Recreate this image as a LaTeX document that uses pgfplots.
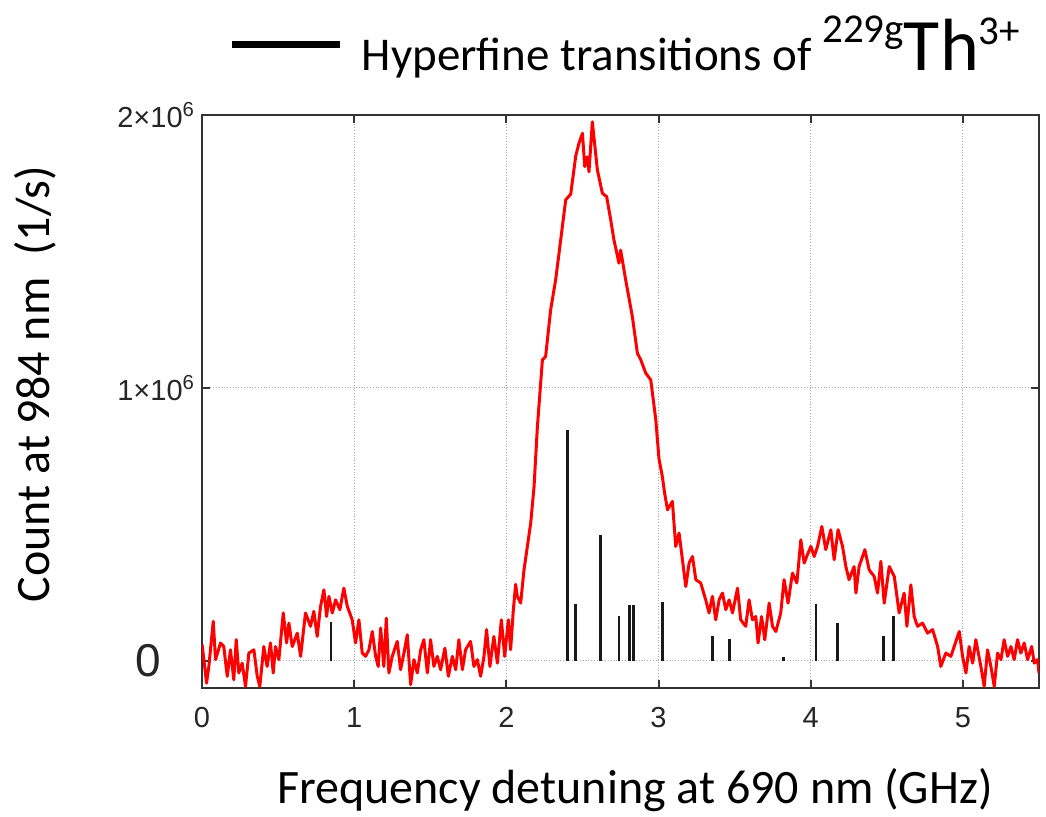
\documentclass[border=0pt]{standalone}
\usepackage{pgfplots}
\pgfplotsset{compat=1.18}
\usepackage{fontspec}
\setmainfont{Carlito}
\newfontfamily\arial{Liberation Sans}
\definecolor{axgray}{HTML}{333333}
\definecolor{specred}{HTML}{FF0000}
\begin{document}
\begin{tikzpicture}
\path[use as bounding box] (-101pt,-64pt) rectangle (422pt,344pt);
\begin{axis}[
  at={(0pt,0pt)}, anchor=south west,
  scale only axis, width=418.5pt, height=286.5pt,
  xmin=0, xmax=5.5, ymin=-0.1, ymax=2,
  xtick={0,1,2,3,4,5},
  ytick={0,1,2},
  yticklabels={{\fontsize{23}{23}\selectfont 0\hspace*{17pt}},{1\texttimes10\textsuperscript{6}},{2\texttimes10\textsuperscript{6}}},
  tick align=inside,
  major tick length=4pt,
  grid=major,
  grid style={densely dotted, gray!70, line width=0.4pt},
  axis line style={axgray, line width=1pt},
  tick style={axgray, line width=1pt},
  ticklabel style={font=\arial\fontsize{14.5}{16}\selectfont, text=black!85},
  xticklabel style={yshift=-6pt},
  /pgf/number format/assume math mode=true,
  legend style={at={(axis description cs:0.032,1.1222)}, anchor=west, draw=none, fill=none,
    inner sep=0pt, outer sep=0pt, font=\fontsize{23.5}{25}\selectfont},
  legend cell align=left,
  legend image code/.code={\draw[line width=3.5pt, black] (0pt,0pt) -- (54pt,0pt);},
]
\addplot[specred, line width=1.5pt, line join=round, forget plot] table {
0.001 0.059
0.030 -0.082
0.045 -0.021
0.074 0.144
0.089 0.004
0.122 0.065
0.143 0.052
0.166 -0.057
0.187 0.040
0.209 -0.070
0.225 0.077
0.242 -0.045
0.264 -0.009
0.286 -0.094
0.308 0.028
0.341 0.040
0.363 -0.057
0.380 -0.094
0.406 0.052
0.428 -0.021
0.450 0.065
0.468 -0.045
0.483 0.052
0.505 0.004
0.534 0.175
0.556 0.065
0.571 0.138
0.593 0.052
0.626 0.101
0.648 0.016
0.680 0.175
0.713 0.126
0.735 0.181
0.757 0.089
0.779 0.199
0.801 0.260
0.819 0.162
0.834 0.236
0.856 0.175
0.878 0.223
0.906 0.187
0.932 0.266
0.955 0.199
0.987 0.150
1.009 0.065
1.031 0.150
1.053 0.028
1.075 0.016
1.097 0.040
1.119 0.107
1.141 0.016
1.158 -0.021
1.174 0.120
1.195 -0.021
1.211 0.156
1.228 -0.045
1.250 0.016
1.283 0.071
1.305 -0.033
1.327 0.028
1.349 0.095
1.371 -0.088
1.393 0.004
1.415 -0.045
1.437 0.040
1.458 0.077
1.481 -0.045
1.502 0.077
1.524 -0.021
1.546 0.016
1.568 -0.033
1.596 0.046
1.619 -0.057
1.645 0.016
1.667 -0.033
1.688 0.077
1.711 -0.033
1.732 0.040
1.765 0.071
1.787 -0.021
1.809 0.004
1.831 -0.057
1.853 0.016
1.870 0.114
1.892 -0.021
1.918 0.089
1.941 -0.009
1.967 0.150
1.989 0.016
2.013 0.150
2.028 0.040
2.045 0.180
2.061 0.280
2.072 0.236
2.094 0.211
2.116 0.333
2.138 0.419
2.160 0.504
2.182 0.638
2.204 0.858
2.237 1.103
2.258 1.115
2.291 1.286
2.324 1.396
2.346 1.493
2.368 1.591
2.390 1.689
2.423 1.710
2.456 1.850
2.477 1.896
2.500 1.933
2.515 1.811
2.532 1.847
2.543 1.792
2.565 1.975
2.598 1.799
2.631 1.713
2.659 1.701
2.686 1.615
2.707 1.542
2.740 1.457
2.751 1.505
2.784 1.396
2.828 1.261
2.861 1.127
2.883 1.103
2.916 1.054
2.949 1.029
2.982 0.883
3.003 0.740
3.025 0.675
3.040 0.614
3.059 0.553
3.091 0.584
3.113 0.419
3.135 0.468
3.157 0.370
3.179 0.272
3.201 0.358
3.223 0.382
3.245 0.297
3.277 0.285
3.310 0.223
3.332 0.175
3.354 0.236
3.376 0.150
3.398 0.223
3.420 0.248
3.442 0.187
3.464 0.223
3.486 0.175
3.519 0.266
3.540 0.150
3.573 0.126
3.595 0.223
3.617 0.150
3.639 0.162
3.654 0.065
3.677 0.162
3.698 0.077
3.727 0.211
3.749 0.126
3.771 0.107
3.803 0.175
3.825 0.297
3.851 0.211
3.880 0.321
3.909 0.285
3.935 0.443
3.957 0.358
3.983 0.395
4.001 0.419
4.023 0.382
4.045 0.419
4.073 0.492
4.099 0.407
4.132 0.480
4.154 0.370
4.180 0.480
4.209 0.419
4.231 0.345
4.252 0.297
4.285 0.345
4.297 0.248
4.318 0.345
4.356 0.407
4.384 0.333
4.417 0.309
4.439 0.248
4.461 0.364
4.483 0.211
4.516 0.345
4.549 0.309
4.581 0.175
4.614 0.248
4.632 0.126
4.658 0.278
4.680 0.162
4.702 0.126
4.735 0.138
4.768 0.101
4.801 0.114
4.834 0.052
4.855 -0.021
4.888 0.028
4.921 0.016
4.943 0.052
4.976 0.107
4.998 0.016
5.020 -0.045
5.041 0.052
5.064 -0.009
5.085 0.077
5.118 -0.021
5.140 -0.094
5.162 0.040
5.184 -0.021
5.206 -0.094
5.228 0.028
5.250 0.004
5.271 0.077
5.294 0.016
5.316 0.052
5.337 0.004
5.359 0.077
5.381 0.028
5.403 0.065
5.425 0.004
5.452 0.052
5.469 -0.009
5.491 0.004
5.500 -0.045
};
\addplot[ycomb, black!90, line width=1.3pt] table {
0.847 0.142
2.401 0.846
2.456 0.208
2.620 0.462
2.740 0.165
2.810 0.203
2.835 0.203
3.026 0.217
3.356 0.092
3.466 0.078
3.820 0.013
4.036 0.208
4.176 0.140
4.479 0.090
4.544 0.165
};
\addlegendentry{\hspace*{7pt}Hyperfine transitions of \raisebox{14pt}{\fontsize{20.5}{20.5}\selectfont 229g}{\fontsize{37}{37}\selectfont Th}\raisebox{13pt}{\fontsize{20.5}{20.5}\selectfont 3+}}
\end{axis}
\node[rotate=90, font=\fontsize{24}{27}\selectfont] at (-83.5pt,152pt) {Count at 984 nm\ \ (1/s)};
\node[font=\fontsize{24}{27}\selectfont] at (216.5pt,-51pt) {Frequency detuning at 690 nm (GHz)};
\end{tikzpicture}
\end{document}
